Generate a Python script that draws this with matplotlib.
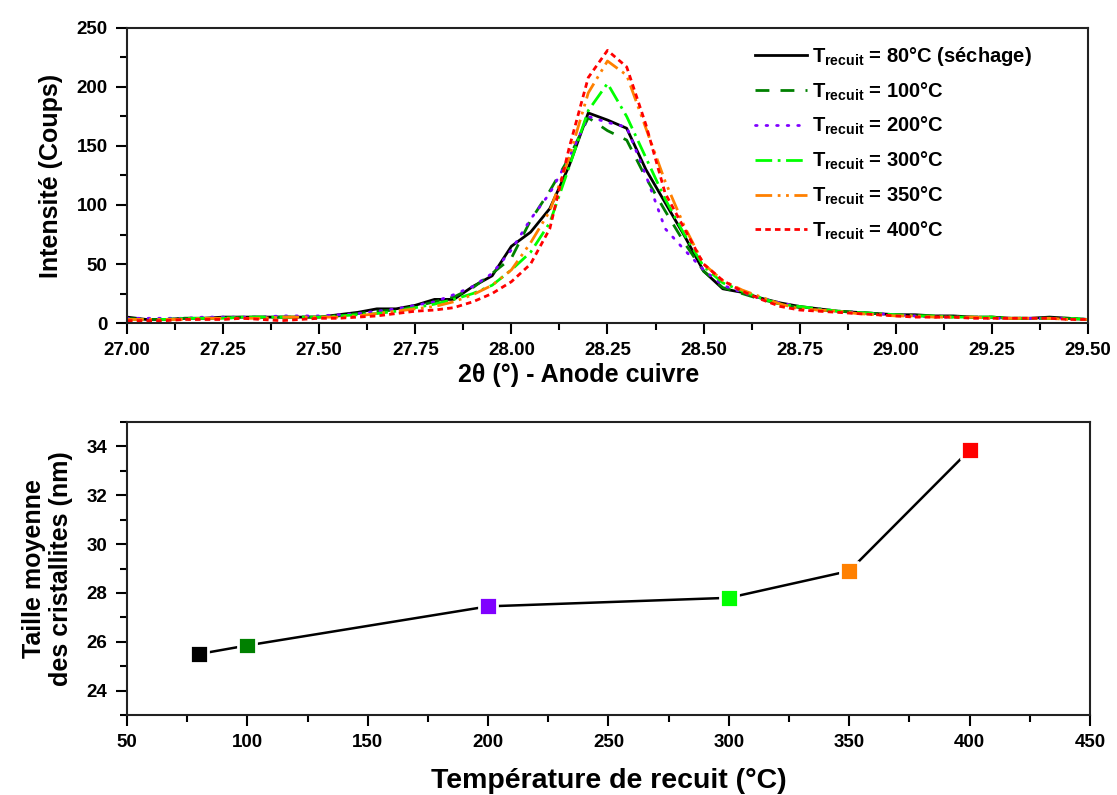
import numpy as np
import matplotlib
matplotlib.use('Agg')
import matplotlib.pyplot as plt
from matplotlib.ticker import MultipleLocator, FormatStrFormatter

plt.rcParams['font.family'] = ['Liberation Sans', 'DejaVu Sans']
plt.rcParams['font.weight'] = 'bold'
plt.rcParams['mathtext.fontset'] = 'custom'
plt.rcParams['mathtext.rm'] = 'Liberation Sans:bold'
plt.rcParams['mathtext.bf'] = 'Liberation Sans:bold'

# diffractogrammes (2theta, pas de 0.05)
two_theta = np.linspace(27.0, 29.5, 51)
i80 = [5, 3, 3, 4, 4, 5, 5, 5, 5, 5, 5, 7, 9, 12, 12, 15, 20, 20, 31, 40, 65, 77, 97, 133, 178,
       172, 165, 130, 102, 74, 44, 29, 26, 21, 17, 14, 12, 10, 9, 8, 7, 7, 6, 6, 5, 5, 4, 4, 5, 4, 3]
i100 = [4, 3, 3, 4, 4, 4, 5, 5, 5, 5, 5, 6, 8, 10, 11, 14, 18, 22, 30, 42, 55, 87, 112, 140, 174,
        163, 155, 123, 95, 68, 44, 30, 25, 20, 16, 13, 11, 10, 9, 8, 7, 6, 6, 5, 5, 5, 4, 4, 4, 4, 3]
i200 = [4, 4, 4, 4, 5, 5, 5, 5, 6, 6, 6, 7, 8, 10, 12, 15, 18, 24, 31, 42, 62, 88, 110, 140, 175,
        170, 166, 125, 80, 62, 45, 32, 26, 21, 17, 14, 12, 10, 9, 8, 7, 6, 5, 5, 5, 4, 4, 4, 4, 4, 3]
i300 = [3, 3, 3, 4, 4, 4, 5, 5, 5, 5, 5, 6, 7, 8, 10, 13, 16, 20, 25, 32, 45, 60, 85, 132, 180,
        203, 175, 140, 105, 75, 48, 34, 27, 21, 16, 14, 12, 10, 9, 8, 7, 6, 6, 5, 5, 5, 4, 4, 4, 4, 3]
i350 = [3, 3, 3, 3, 4, 4, 4, 4, 5, 5, 5, 5, 6, 8, 10, 12, 14, 18, 24, 32, 45, 68, 95, 140, 195,
        222, 210, 165, 120, 82, 50, 36, 28, 22, 16, 12, 11, 10, 8, 7, 6, 6, 5, 5, 5, 4, 4, 4, 4, 3, 3]
i400 = [2, 2, 2, 3, 3, 3, 4, 3, 2, 3, 4, 4, 5, 6, 8, 10, 11, 13, 18, 25, 35, 50, 80, 148, 208,
        231, 217, 168, 110, 80, 50, 36, 27, 20, 14, 11, 10, 9, 8, 7, 6, 5, 5, 5, 4, 4, 4, 4, 4, 3, 3]

labels = ['80°C (séchage)', '100°C', '200°C', '300°C', '350°C', '400°C']
colors = ['black', '#008000', '#8000ff', '#00ff00', '#ff8000', '#ff0000']
styles = ['-', (0, (5, 4)), (0, (0.6, 3.2)), (0, (6, 2, 1, 2)), (0, (6, 2, 1, 2, 1, 2)), (0, (2, 1.5))]
caps = ['butt', 'butt', 'round', 'butt', 'butt', 'butt']

# taille des cristallites
t_recuit = [80, 100, 200, 300, 350, 400]
taille = [25.5, 25.85, 27.45, 27.8, 28.9, 33.85]

fig = plt.figure(figsize=(11.17, 7.95), dpi=100)
ax1 = fig.add_axes([0.1137, 0.5937, 0.8603, 0.3711])
ax2 = fig.add_axes([0.1137, 0.1006, 0.8621, 0.3686])

series = [i80, i100, i200, i300, i350, i400]
for s, lab, c, ls, cap in zip(series, labels, colors, styles, caps):
    ax1.plot(two_theta, s, color=c, linestyle=ls, linewidth=2, dash_capstyle=cap,
             label=r'$\mathbf{T_{recuit}}$ = ' + lab)

ax1.set_xlim(27.0, 29.5)
ax1.set_ylim(0, 250)
ax1.xaxis.set_major_locator(MultipleLocator(0.25))
ax1.xaxis.set_minor_locator(MultipleLocator(0.125))
ax1.xaxis.set_major_formatter(FormatStrFormatter('%.2f'))
ax1.yaxis.set_major_locator(MultipleLocator(50))
ax1.yaxis.set_minor_locator(MultipleLocator(25))
ax1.set_xlabel('2θ (°) - Anode cuivre', fontsize=18, fontweight='bold')
ax1.xaxis.set_label_coords(0.47, -0.135)
ax1.set_ylabel('Intensité (Coups)', fontsize=18, fontweight='bold', labelpad=10)
ax1.legend(loc='upper left', frameon=False, fontsize=14.5, handlelength=2.6,
           labelspacing=0.62, handletextpad=0.25, borderaxespad=0,
           bbox_to_anchor=(0.645, 0.97))

ax2.plot(t_recuit, taille, color='black', linewidth=1.8, zorder=2)
ax2.scatter(t_recuit, taille, marker='s', s=165, c=colors, edgecolors='white',
            linewidths=2, zorder=3)
ax2.set_xlim(50, 450)
ax2.set_ylim(23, 35)
ax2.xaxis.set_major_locator(MultipleLocator(50))
ax2.xaxis.set_minor_locator(MultipleLocator(25))
ax2.yaxis.set_major_locator(MultipleLocator(2))
ax2.yaxis.set_minor_locator(MultipleLocator(1))
ax2.set_xlabel('Température de recuit (°C)', fontsize=20.5, fontweight='bold', labelpad=12)
ax2.set_ylabel('Taille moyenne\ndes cristallites (nm)', fontsize=18, fontweight='bold',
               labelpad=10, linespacing=1.15)

for ax in (ax1, ax2):
    for sp in ax.spines.values():
        sp.set_linewidth(1.5)
        sp.set_color('#222222')
    ax.tick_params(which='both', direction='out', top=False, right=False, width=1.5,
                   labelsize=13.5)
    ax.tick_params(which='major', length=8, pad=6)
    ax.tick_params(which='minor', length=5)

fig.savefig('out.png', dpi=100)
